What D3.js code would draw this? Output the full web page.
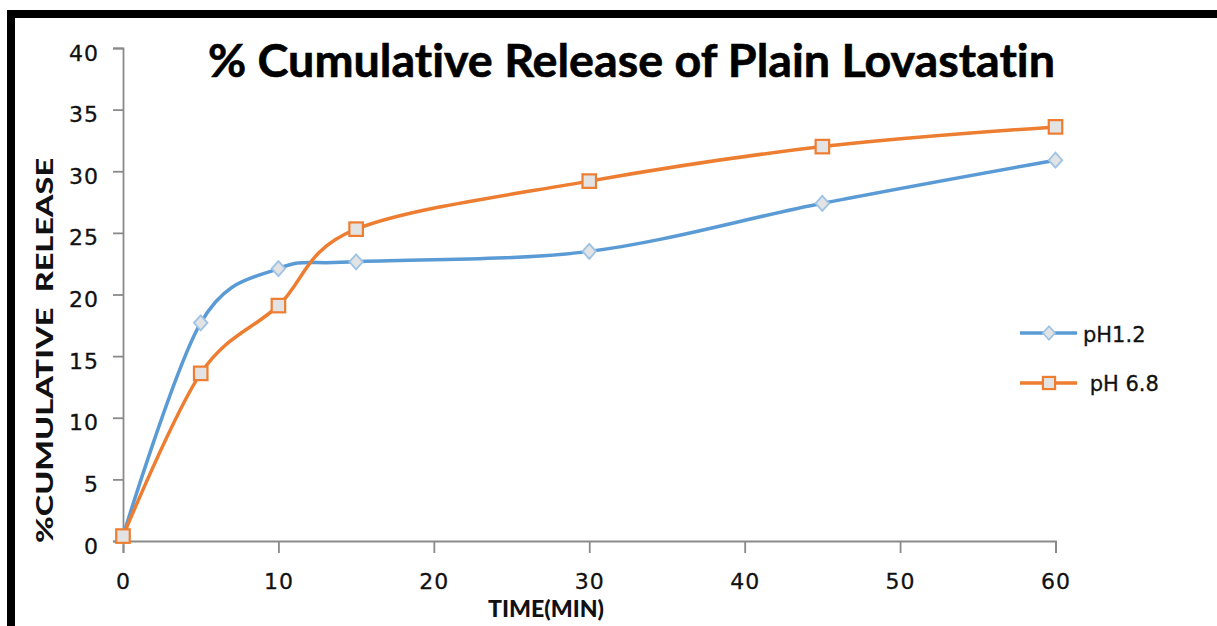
<!DOCTYPE html>
<html>
<head>
<meta charset="utf-8">
<script src="https://cdn.jsdelivr.net/npm/d3@7"></script>
<style>
  body { margin: 0; background: #fff; }
  svg { display: block; }
  text { font-variant-ligatures: none; font-feature-settings: "liga" 0, "clig" 0; }
</style>
</head>
<body>
<svg id="chart" width="1217" height="626"></svg>
<script>
// Dissolution time points (min)
const times = [0, 5, 10, 15, 30, 45, 60];
// % cumulative release in each medium
const releasePH12 = [0.4, 17.7, 22.1, 22.65, 23.5, 27.4, 30.9];
const releasePH68 = [0.4, 13.6, 19.1, 25.3, 29.2, 32.0, 33.6];
const seriesNames = ["pH1.2", "pH 6.8"];
const yTickValues = [0, 5, 10, 15, 20, 25, 30, 35, 40];
const xTickValues = [0, 10, 20, 30, 40, 50, 60];
const titleText = "% Cumulative Release of Plain Lovastatin";
const xTitle = "TIME(MIN)";
const yTitle = "%CUMULATIVE  RELEASE";

const svg = d3.select("#chart");
const W = 1217, H = 626;

svg.append("rect").attr("width", W).attr("height", H).attr("fill", "#fff");

// page frame
svg.append("rect").attr("x", 7).attr("y", 10).attr("width", W - 7).attr("height", 8).attr("fill", "#000");
svg.append("rect").attr("x", 7).attr("y", 10).attr("width", 8).attr("height", H - 10).attr("fill", "#000");

const x = d3.scaleLinear().domain([0, 60]).range([123, 1055.5]);
const y = d3.scaleLinear().domain([0, 40]).range([541, 48]);

const axisColor = "#8a8a8a";
const tickFont = "'DejaVu Sans', Verdana, sans-serif";

// y axis
const gy = svg.append("g").attr("transform", `translate(${x(0)},0)`)
  .call(d3.axisLeft(y).tickValues(yTickValues).tickSize(10).tickFormat(""));
// x axis
const gx = svg.append("g").attr("transform", `translate(0,${y(0)})`)
  .call(d3.axisBottom(x).tickValues(xTickValues).tickSize(12).tickFormat(""));
[gx, gy].forEach(g => {
  g.selectAll("path, line").attr("stroke", axisColor).attr("stroke-width", 1.8);
});

// tick labels
svg.append("g").selectAll("text").data(yTickValues).join("text")
  .attr("x", x(0) - 24)
  .attr("y", d => y(d) + 12.5)
  .attr("text-anchor", "end")
  .attr("font-family", tickFont)
  .attr("font-size", 22)
  .attr("letter-spacing", 1)
  .attr("fill", "#111")
  .attr("stroke", "#111").attr("stroke-width", 0.3)
  .text(d => d);

svg.append("g").selectAll("text").data(xTickValues).join("text")
  .attr("x", d => x(d) + 0.5)
  .attr("y", 589)
  .attr("text-anchor", "middle")
  .attr("font-family", tickFont)
  .attr("font-size", 22)
  .attr("letter-spacing", 1)
  .attr("fill", "#111")
  .attr("stroke", "#111").attr("stroke-width", 0.3)
  .text(d => d);

// titles
const boldFont = "Lato, 'Open Sans', sans-serif";
svg.append("text")
  .attr("x", 208).attr("y", 77)
  .attr("font-family", boldFont).attr("font-weight", 700)
  .attr("font-size", 45)
  .attr("textLength", 847).attr("lengthAdjust", "spacingAndGlyphs")
  .attr("fill", "#000")
  .attr("stroke", "#000").attr("stroke-width", 0.6)
  .text(titleText);

svg.append("text")
  .attr("x", 488).attr("y", 617)
  .attr("font-family", boldFont).attr("font-weight", 900)
  .attr("font-size", 23)
  .attr("textLength", 116).attr("lengthAdjust", "spacingAndGlyphs")
  .attr("fill", "#111")
  .text(xTitle);

svg.append("text")
  .attr("transform", "translate(53,543) rotate(-90)")
  .attr("font-family", boldFont).attr("font-weight", 900)
  .attr("font-size", 22)
  .attr("textLength", 385).attr("lengthAdjust", "spacingAndGlyphs")
  .attr("fill", "#111")
  .style("white-space", "pre")
  .text(yTitle);

// series
const blue = "#5b9bd5", orange = "#ed7d31";
const series = [
  { name: seriesNames[0], values: releasePH12, color: blue, marker: "diamond" },
  { name: seriesNames[1], values: releasePH68, color: orange, marker: "square" }
];

const line = d3.line()
  .x(d => x(d[0])).y(d => y(d[1]))
  .curve(d3.curveCardinal.tension(0));

function drawMarker(g, kind, cx, cy, scale) {
  if (kind === "diamond") {
    const r = 7.5 * scale;
    g.append("path")
      .attr("d", `M${cx},${cy - r}L${cx + r * 0.9},${cy}L${cx},${cy + r}L${cx - r * 0.9},${cy}Z`)
      .attr("fill", "#e3e3e3").attr("stroke", "#9dc3e6").attr("stroke-width", 1.8);
  } else {
    const s = 13.5 * scale;
    g.append("rect")
      .attr("x", cx - s / 2).attr("y", cy - s / 2).attr("width", s).attr("height", s)
      .attr("fill", "#e3e3e3").attr("stroke", orange).attr("stroke-width", 2.2);
  }
}

series.forEach(s => {
  const pts = times.map((t, i) => [t, s.values[i]]);
  const g = svg.append("g");
  g.append("path").attr("d", line(pts))
    .attr("fill", "none").attr("stroke", s.color).attr("stroke-width", 3.5)
    .attr("stroke-linejoin", "round");
  pts.forEach(p => drawMarker(g, s.marker, x(p[0]), y(p[1]), 1));
});

// legend
const legendRows = [
  { s: series[0], y: 333, textX: 1083, textY: 342 },
  { s: series[1], y: 383, textX: 1083, textY: 391 }
];
legendRows.forEach(r => {
  const g = svg.append("g");
  g.append("line").attr("x1", 1020).attr("x2", 1077).attr("y1", r.y).attr("y2", r.y)
    .attr("stroke", r.s.color).attr("stroke-width", 3.5);
  drawMarker(g, r.s.marker, 1049, r.y, 0.9);
  g.append("text").attr("x", r.textX).attr("y", r.textY)
    .attr("font-family", tickFont).attr("font-size", 21)
    .attr("fill", "#111")
    .attr("stroke", "#111").attr("stroke-width", 0.3)
    .style("white-space", "pre")
    .text(r.s.name === "pH 6.8" ? " " + r.s.name : r.s.name);
});
</script>
</body>
</html>
